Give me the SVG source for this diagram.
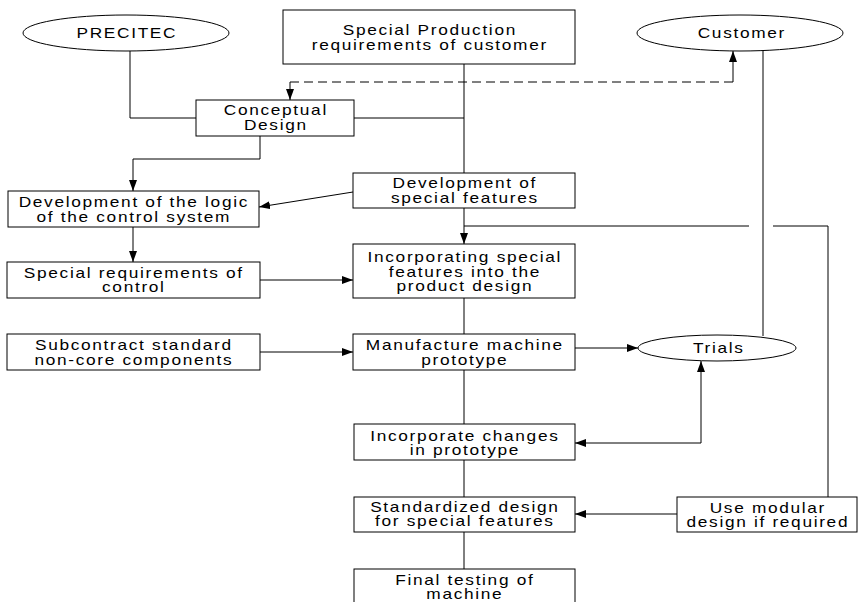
<svg xmlns="http://www.w3.org/2000/svg" width="859" height="602" viewBox="0 0 859 602">
<style>
.n{fill:#fff;stroke:#000;stroke-width:1}
.t{font-family:"Liberation Sans",Arial,sans-serif;font-size:14.4px;letter-spacing:1.4px;fill:#000;text-anchor:middle}
.c{fill:none;stroke:#000;stroke-width:1}
.d{stroke-dasharray:9,5}
</style>
<defs>
<marker id="ah" markerUnits="userSpaceOnUse" markerWidth="11" markerHeight="8" refX="11" refY="4" orient="auto">
<path d="M0,0 L11,4 L0,8 z" fill="#000"/>
</marker>
</defs>
<rect width="859" height="602" fill="#fff"/>
<g id="connectors">
<polyline class="c" points="130,51 130,118 196,118"/>
<line class="c" x1="464" y1="64" x2="464" y2="173"/>
<line class="c" x1="354" y1="118" x2="464" y2="118"/>
<polyline class="c d" points="733,82 290,82"/>
<line class="c" x1="290" y1="82" x2="290" y2="100" marker-end="url(#ah)"/>
<line class="c" x1="733" y1="82" x2="733" y2="51" marker-end="url(#ah)"/>
<polyline class="c" points="260,136 260,159 133,159 133,191" marker-end="url(#ah)"/>
<line class="c" x1="353" y1="192" x2="259" y2="207" marker-end="url(#ah)"/>
<line class="c" x1="464" y1="208" x2="464" y2="244" marker-end="url(#ah)"/>
<line class="c" x1="464" y1="226" x2="749" y2="226"/>
<polyline class="c" points="773,226 828,226 828,497"/>
<line class="c" x1="763" y1="51" x2="763" y2="336"/>
<line class="c" x1="133" y1="227" x2="133" y2="262" marker-end="url(#ah)"/>
<line class="c" x1="260" y1="280" x2="353" y2="280" marker-end="url(#ah)"/>
<line class="c" x1="464" y1="298" x2="464" y2="334"/>
<line class="c" x1="260" y1="352" x2="353" y2="352" marker-end="url(#ah)"/>
<line class="c" x1="575" y1="348" x2="638" y2="348" marker-end="url(#ah)"/>
<line class="c" x1="464" y1="370" x2="464" y2="424"/>
<polyline class="c" points="701,443 575,443" marker-end="url(#ah)"/>
<line class="c" x1="701" y1="443" x2="701" y2="361" marker-end="url(#ah)"/>
<line class="c" x1="464" y1="460" x2="464" y2="497"/>
<line class="c" x1="677" y1="514" x2="575" y2="514" marker-end="url(#ah)"/>
<line class="c" x1="464" y1="532" x2="464" y2="569"/>
</g>
<g id="precitec">
<ellipse class="n" cx="126" cy="33" rx="103" ry="18"/>
<text class="t" transform="translate(126,38) scale(1.2,1)" x="0.7">PRECITEC</text>
</g>
<g id="customer">
<ellipse class="n" cx="740" cy="33" rx="103" ry="18"/>
<text class="t" transform="translate(741,38) scale(1.2,1)" x="0.7">Customer</text>
</g>
<g id="special-production">
<rect class="n" x="283" y="10" width="292" height="54"/>
<text class="t" transform="translate(429,35) scale(1.2,1)" x="0.7">Special Production</text>
<text class="t" transform="translate(429,50) scale(1.2,1)" x="0.7">requirements of customer</text>
</g>
<g id="conceptual-design">
<rect class="n" x="196" y="100" width="158" height="36"/>
<text class="t" transform="translate(275,115) scale(1.2,1)" x="0.7">Conceptual</text>
<text class="t" transform="translate(275,130) scale(1.2,1)" x="0.7">Design</text>
</g>
<g id="logic">
<rect class="n" x="8" y="191" width="251" height="36"/>
<text class="t" transform="translate(133,207) scale(1.2,1)" x="0.7">Development of the logic</text>
<text class="t" transform="translate(133,222) scale(1.2,1)" x="0.7">of the control system</text>
</g>
<g id="dev-special">
<rect class="n" x="353" y="173" width="222" height="35"/>
<text class="t" transform="translate(464,188) scale(1.2,1)" x="0.7">Development of</text>
<text class="t" transform="translate(464,203) scale(1.2,1)" x="0.7">special features</text>
</g>
<g id="incorporating">
<rect class="n" x="353" y="244" width="222" height="54"/>
<text class="t" transform="translate(464,262) scale(1.2,1)" x="0.7">Incorporating special</text>
<text class="t" transform="translate(464,277) scale(1.2,1)" x="0.7">features into the</text>
<text class="t" transform="translate(464,291) scale(1.2,1)" x="0.7">product design</text>
</g>
<g id="special-control">
<rect class="n" x="7" y="262" width="253" height="36"/>
<text class="t" transform="translate(133,278) scale(1.2,1)" x="0.7">Special requirements of</text>
<text class="t" transform="translate(133,292) scale(1.2,1)" x="0.7">control</text>
</g>
<g id="subcontract">
<rect class="n" x="7" y="334" width="253" height="36"/>
<text class="t" transform="translate(133,350) scale(1.2,1)" x="0.7">Subcontract standard</text>
<text class="t" transform="translate(133,365) scale(1.2,1)" x="0.7">non-core components</text>
</g>
<g id="manufacture">
<rect class="n" x="353" y="334" width="222" height="36"/>
<text class="t" transform="translate(464,350) scale(1.2,1)" x="0.7">Manufacture machine</text>
<text class="t" transform="translate(464,365) scale(1.2,1)" x="0.7">prototype</text>
</g>
<g id="trials">
<ellipse class="n" cx="717" cy="348" rx="79" ry="13"/>
<text class="t" transform="translate(718,353) scale(1.2,1)" x="0.7">Trials</text>
</g>
<g id="incorporate-changes">
<rect class="n" x="354" y="424" width="221" height="36"/>
<text class="t" transform="translate(464,441) scale(1.2,1)" x="0.7">Incorporate changes</text>
<text class="t" transform="translate(464,455) scale(1.2,1)" x="0.7">in prototype</text>
</g>
<g id="standardized">
<rect class="n" x="354" y="497" width="221" height="35"/>
<text class="t" transform="translate(464,512) scale(1.2,1)" x="0.7">Standardized design</text>
<text class="t" transform="translate(464,526) scale(1.2,1)" x="0.7">for special features</text>
</g>
<g id="modular">
<rect class="n" x="677" y="497" width="180" height="35"/>
<text class="t" transform="translate(767,513) scale(1.2,1)" x="0.7">Use modular</text>
<text class="t" transform="translate(767,527) scale(1.2,1)" x="0.7">design if required</text>
</g>
<g id="final-testing">
<rect class="n" x="354" y="569" width="221" height="40"/>
<text class="t" transform="translate(464,585) scale(1.2,1)" x="0.7">Final testing of</text>
<text class="t" transform="translate(464,599) scale(1.2,1)" x="0.7">machine</text>
</g>
</svg>
